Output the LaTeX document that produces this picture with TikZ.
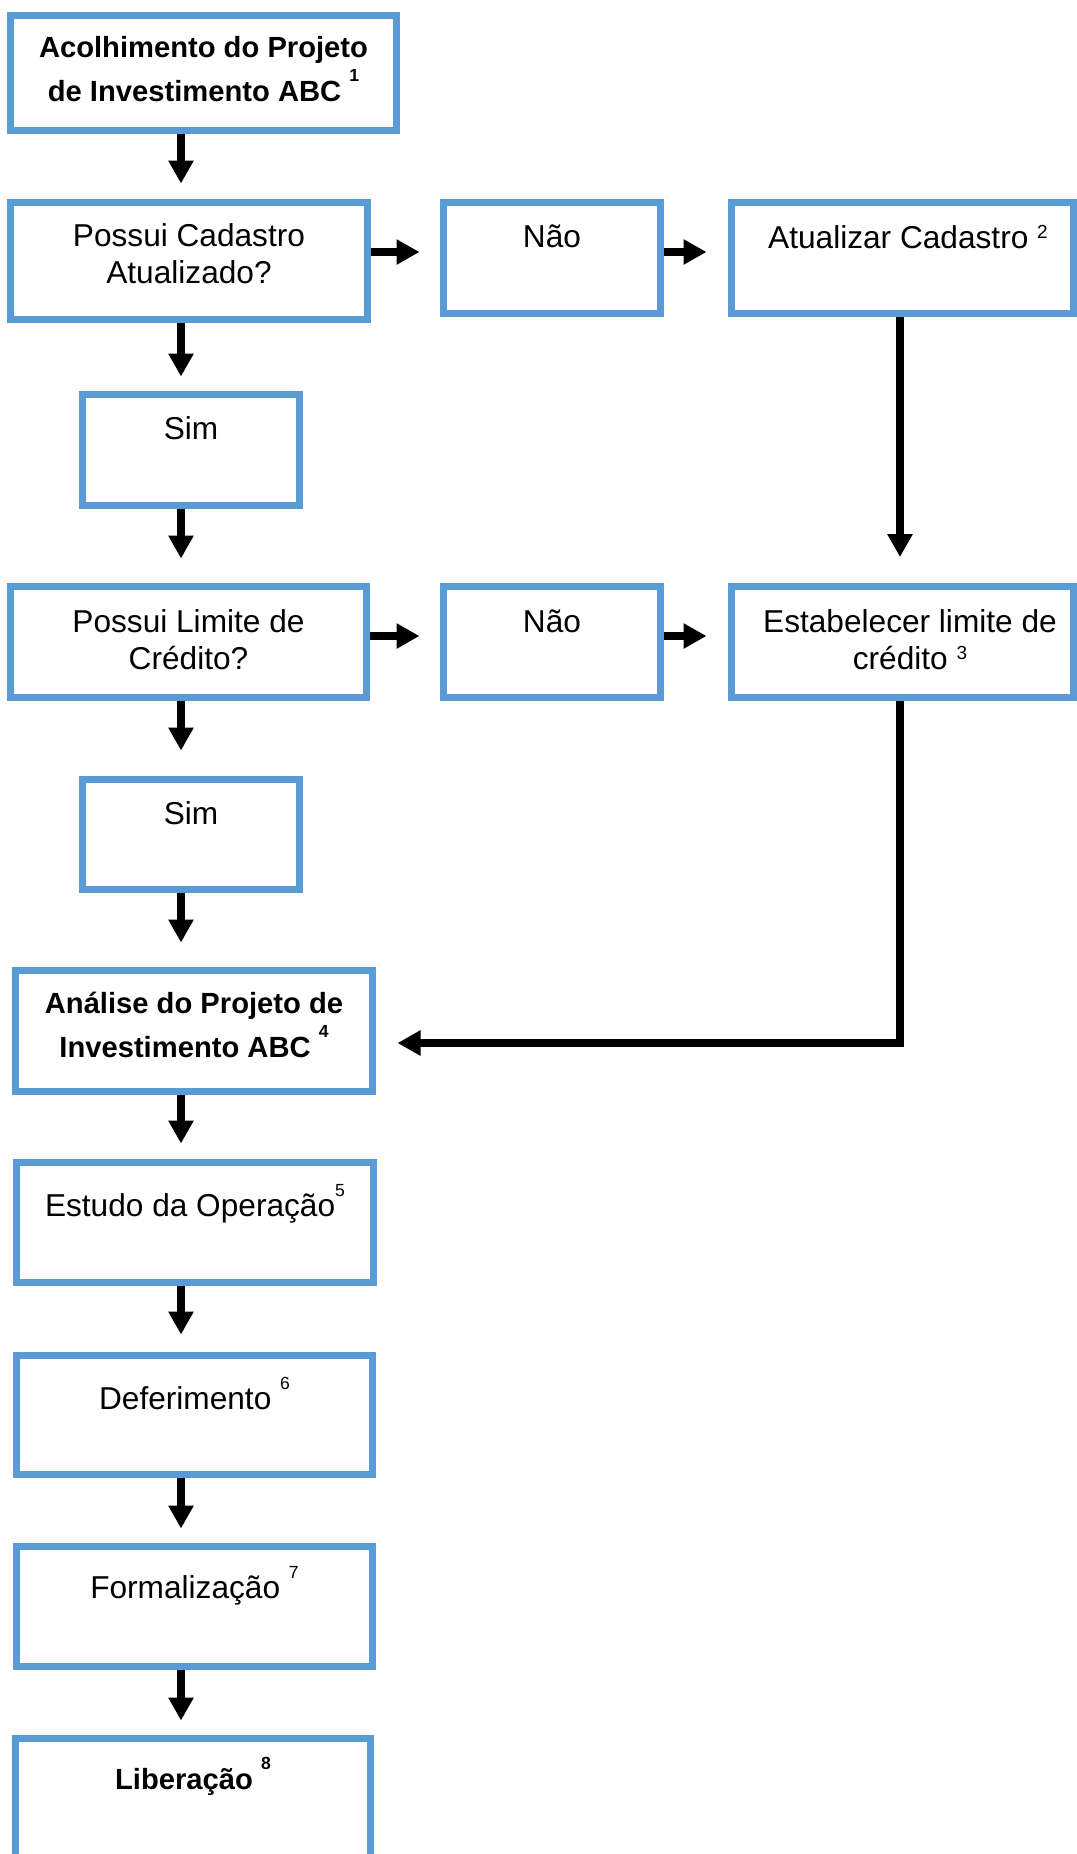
\documentclass[tikz,border=0pt]{standalone}
\usepackage{fontspec}
\setmainfont{Liberation Sans}
\usetikzlibrary{arrows.meta,positioning}
\definecolor{boxblue}{RGB}{91,155,213}
\newcommand{\suplo}[1]{\raisebox{0.2cm}{\fontsize{10.8}{10.8}\selectfont #1}}
\newcommand{\suphi}[1]{\raisebox{0.4cm}{\fontsize{10}{10}\selectfont #1}}

\begin{document}
\begin{tikzpicture}
        \tikzset{
            bx/.style={rectangle, draw=boxblue, line width=0.14cm, inner sep=0pt},
            tx/.style={inner sep=0pt, align=center, font=\fontsize{18}{21}\selectfont},
            btx/.style={inner sep=0pt, align=center, font=\fontsize{16.6}{25}\selectfont\bfseries},
            c1/.style={line width=0.16cm, -{Triangle[width=0.48cm,length=0.46cm]},
                shorten >=0.31cm}
            }
            \useasboundingbox (0,0) rectangle (21.54,-37.08);

            \node[bx, minimum width=7.72cm, minimum height=2.30cm] (n1) at (4.07,-1.46) {};
            \node[bx, minimum width=7.14cm, minimum height=2.34cm] (n2) at (3.78,-5.22) {};
            \node[bx, minimum width=4.34cm, minimum height=2.22cm] (n3) at (11.04,-5.16) {};
            \node[bx, minimum width=6.84cm, minimum height=2.22cm] (n4) at (18.05,-5.16) {};
            \node[bx, minimum width=4.34cm, minimum height=2.22cm] (n5) at (3.82,-9.00) {};
            \node[bx, minimum width=7.12cm, minimum height=2.22cm] (n6) at (3.77,-12.84) {};
            \node[bx, minimum width=4.34cm, minimum height=2.22cm] (n7) at (11.04,-12.84) {};
            \node[bx, minimum width=6.84cm, minimum height=2.22cm] (n8) at (18.05,-12.84) {};
            \node[bx, minimum width=4.34cm, minimum height=2.20cm] (n9) at (3.82,-16.69) {};
            \node[bx, minimum width=7.14cm, minimum height=2.42cm] (n10) at (3.88,-20.62) {};
            \node[bx, minimum width=7.14cm, minimum height=2.40cm] (n11) at (3.90,-24.45) {};
            \node[bx, minimum width=7.12cm, minimum height=2.38cm] (n12) at (3.89,-28.30) {};
            \node[bx, minimum width=7.12cm, minimum height=2.40cm] (n13) at (3.89,-32.13) {};
            \node[bx, minimum width=7.10cm, minimum height=2.40cm] (n14) at (3.86,-35.97) {};

            \node[btx, below=0.48cm of n1.north] (t1) {Acolhimento do Projeto\\de Investimento ABC \suphi{1}};
            \node[tx, below=0.49cm of n2.north] (t2) {Possui Cadastro\\Atualizado?};
            \node[tx, below=0.51cm of n3.north] (t3) {Não};
            \node[tx, below=0.51cm of n4.north, xshift=0.11cm] (t4) {Atualizar Cadastro \suplo{2}};
            \node[tx, below=0.50cm of n5.north] (t5) {Sim};
            \node[tx, below=0.53cm of n6.north] (t6) {Possui Limite de\\Crédito?};
            \node[tx, below=0.53cm of n7.north] (t7) {Não};
            \node[tx, below=0.53cm of n8.north, xshift=0.15cm] (t8) {Estabelecer limite de\\crédito \suplo{3}};
            \node[tx, below=0.50cm of n9.north] (t9) {Sim};
            \node[btx, below=0.50cm of n10.north] (t10) {Análise do Projeto de\\Investimento ABC \suphi{4}};
            \node[tx, below=0.51cm of n11.north] (t11) {Estudo da Operação\suphi{5}};
            \node[tx, below=0.49cm of n12.north] (t12) {Deferimento \suphi{6}};
            \node[tx, below=0.47cm of n13.north] (t13) {Formalização \suphi{7}};
            \node[btx, below=0.43cm of n14.north] (t14) {Liberação \suphi{8}};

            \coordinate (ax) at (3.62,0);
            \coordinate (r1) at (0,-5.04);
            \coordinate (r2) at (0,-12.72);
            \coordinate (vx) at (18.0,0);
            \coordinate (hy) at (0,-20.86);

            \draw[c1] (n1.south -| ax) -- (n2.north -| ax);
            \draw[c1, shorten >=0.29cm] (n2.south -| ax) -- (n5.north -| ax);
            \draw[c1, shorten >=0.49cm] (n5.south -| ax) -- (n6.north -| ax);
            \draw[c1, shorten >=0.51cm] (n6.south -| ax) -- (n9.north -| ax);
            \draw[c1, shorten >=0.49cm] (n9.south -| ax) -- (n10.north -| ax);
            \draw[c1] (n10.south -| ax) -- (n11.north -| ax);
            \draw[c1, shorten >=0.35cm] (n11.south -| ax) -- (n12.north -| ax);
            \draw[c1, shorten >=0.29cm] (n12.south -| ax) -- (n13.north -| ax);
            \draw[c1, shorten >=0.29cm] (n13.south -| ax) -- (n14.north -| ax);

            \draw[c1, shorten >=0.41cm] (n2.east |- r1) -- (n3.west |- r1);
            \draw[c1, shorten >=0.43cm] (n3.east |- r1) -- (n4.west |- r1);
            \draw[c1, shorten >=0.41cm] (n6.east |- r2) -- (n7.west |- r2);
            \draw[c1, shorten >=0.43cm] (n7.east |- r2) -- (n8.west |- r2);

            \draw[c1, line width=0.15cm, shorten >=0.52cm] (n4.south -| vx) -- (n8.north -| vx);
            \draw[c1, line width=0.15cm, shorten >=0.43cm] (n8.south -| vx) |- (n10.east |- hy);
        \end{tikzpicture}
\end{document}
